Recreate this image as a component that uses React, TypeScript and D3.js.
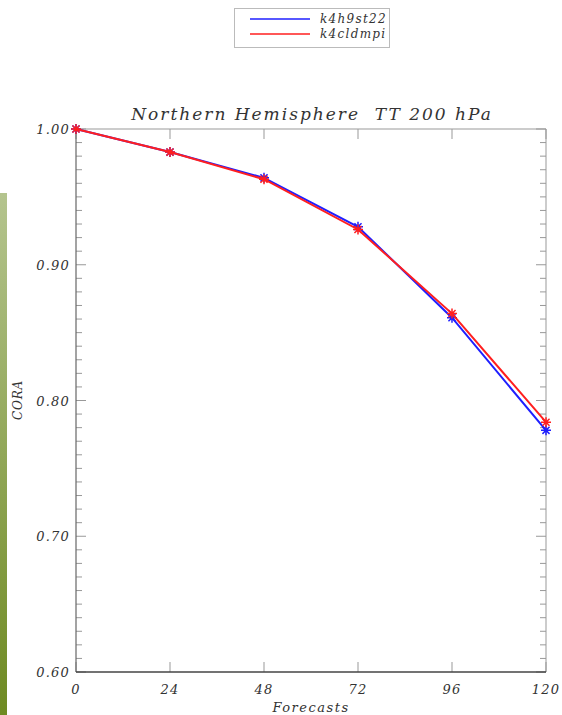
import React from "react";
import * as d3 from "d3";

const forecasts = [0, 24, 48, 72, 96, 120];
const k4h9st22 = [1.0, 0.983, 0.964, 0.928, 0.861, 0.778];
const k4cldmpi = [1.0, 0.983, 0.963, 0.926, 0.864, 0.784];
const yTicks = [0.6, 0.7, 0.8, 0.9, 1.0];
const seriesNames = ["k4h9st22", "k4cldmpi"];
const seriesColors = ["#1f1fff", "#ff1f1f"];

const W = 562, H = 715;
const L = 76, R = 546, T = 129, B = 672;
const font = "'DejaVu Serif', serif";

function asterisk(cx: number, cy: number, r: number) {
  const parts: string[] = [];
  for (let i = 0; i < 4; i++) {
    const a = (i * Math.PI) / 4;
    const dx = r * Math.cos(a), dy = r * Math.sin(a);
    parts.push(`M${cx - dx},${cy - dy}L${cx + dx},${cy + dy}`);
  }
  return parts.join("");
}

export default function App() {
  const x = d3.scaleLinear().domain([0, 120]).range([L, R]);
  const y = d3.scaleLinear().domain([0.6, 1.0]).range([B, T]);
  const minor = d3.range(60, 101).map((v) => v / 100);
  const line = d3.line<number>().x((_, i) => x(forecasts[i])).y((d) => y(d));
  const series = [k4h9st22, k4cldmpi];
  return (
    <svg width={W} height={H} style={{ position: "absolute", left: 0, top: 0, background: "#fff" }}>
      <defs>
        <linearGradient id="g" x1="0" y1="0" x2="0" y2="1">
          <stop offset="0" stopColor="#b4c48e" />
          <stop offset="1" stopColor="#6e8a22" />
        </linearGradient>
      </defs>
      <rect x={0} y={193} width={7} height={H - 193} fill="url(#g)" />
      {/* legend */}
      <rect x={234.5} y={8.5} width={155} height={39} fill="#fff" stroke="#bbb" />
      {seriesNames.map((n, i) => (
        <g key={n}>
          <line x1={250} x2={310} y1={19 + i * 15} y2={19 + i * 15} stroke={seriesColors[i]} strokeWidth={1.5} />
          <text x={320} y={23 + i * 15} fontFamily={font} fontStyle="italic" fontSize={12} fill="#333" letterSpacing={1.3}>{n}</text>
        </g>
      ))}
      <text x={312} y={120} textAnchor="middle" fontFamily={font} fontStyle="italic" fontSize={17} fill="#333" letterSpacing={2}>
        Northern Hemisphere{"\u00a0\u00a0"}TT 200 hPa
      </text>
      {minor.map((v) => {
        const major = Math.round(v * 100) % 10 === 0;
        const len = major ? 10 : 6;
        return (
          <g key={v} stroke="#999" strokeWidth={1}>
            <line x1={L} x2={L + len} y1={y(v)} y2={y(v)} />
            <line x1={R} x2={R - len} y1={y(v)} y2={y(v)} />
          </g>
        );
      })}
      {forecasts.map((f) => (
        <g key={f} stroke="#999" strokeWidth={1}>
          <line x1={x(f)} x2={x(f)} y1={B} y2={B - 10} />
          <line x1={x(f)} x2={x(f)} y1={T} y2={T + 10} />
        </g>
      ))}
      <line x1={L} x2={R} y1={T} y2={T} stroke="#999" />
      <line x1={R} x2={R} y1={T} y2={B} stroke="#999" />
      <line x1={L} x2={L} y1={T} y2={B} stroke="#666" strokeWidth={1.2} />
      <line x1={L} x2={R} y1={B} y2={B} stroke="#444" strokeWidth={1.5} />
      {yTicks.map((v) => (
        <text key={v} x={70} y={y(v) + 5} textAnchor="end" fontFamily={font} fontStyle="italic" fontSize={13} fill="#333" letterSpacing={1.2}>
          {v.toFixed(2)}
        </text>
      ))}
      {forecasts.map((f) => (
        <text key={f} x={x(f)} y={694} textAnchor="middle" fontFamily={font} fontStyle="italic" fontSize={13} fill="#333" letterSpacing={1.2}>
          {f}
        </text>
      ))}
      <text x={311} y={712} textAnchor="middle" fontFamily={font} fontStyle="italic" fontSize={13} fill="#333" letterSpacing={1.5}>Forecasts</text>
      <text transform={`translate(22,400) rotate(-90)`} textAnchor="middle" fontFamily={font} fontStyle="italic" fontSize={12} fill="#333" letterSpacing={0.8}>CORA</text>
      {series.map((s, i) => (
        <g key={i}>
          <path d={line(s) || ""} fill="none" stroke={seriesColors[i]} strokeWidth={2} />
          {s.map((v, j) => (
            <path key={j} d={asterisk(x(forecasts[j]), y(v), 5)} stroke={seriesColors[i]} strokeWidth={1.5} />
          ))}
        </g>
      ))}
    </svg>
  );
}
